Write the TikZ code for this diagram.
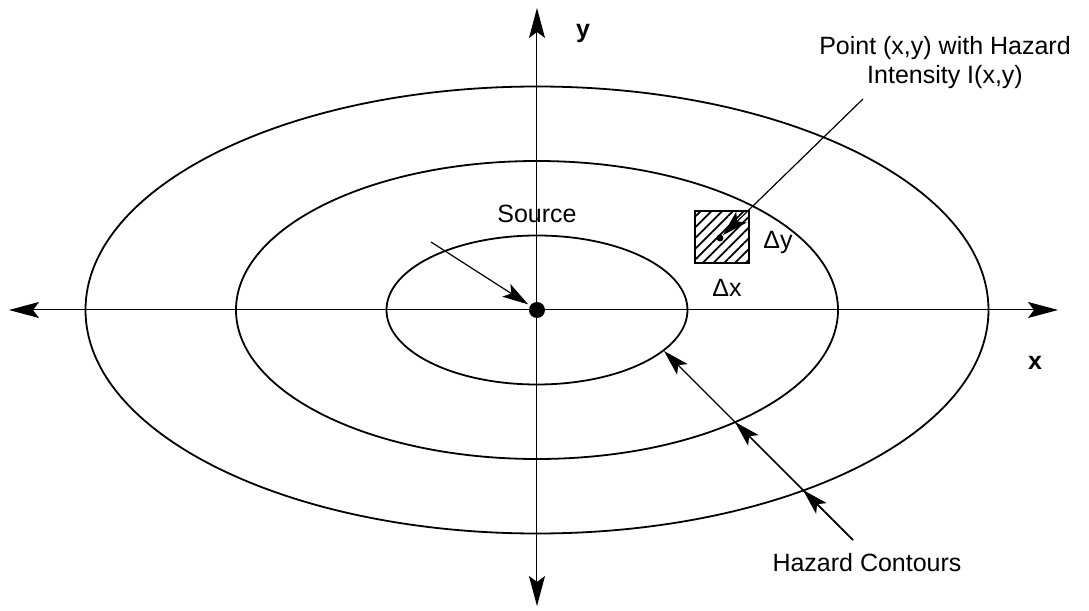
\documentclass[tikz,border=0pt]{standalone}
\usepackage{fontspec}
\setmainfont{Liberation Sans}
\usetikzlibrary{arrows.meta,patterns.meta}

\tikzset{
  lbl/.style={font=\fontsize{12.5}{14.5}\selectfont, inner sep=0pt},
  axlbl/.style={lbl, font=\fontsize{12.5}{14.5}\selectfont\bfseries},
  ax/.style={line width=0.5pt, {Stealth[length=15pt,width=8pt,inset=3pt]}-{Stealth[length=15pt,width=8pt,inset=3pt]}},
  ptr/.style={line width=0.6pt, -{Stealth[length=13pt,width=7.5pt,inset=3pt]}},
  contour/.style={line width=0.9pt}
}

\begin{document}
\begin{tikzpicture}[x=0.5pt,y=0.5pt]
  \useasboundingbox (-537,-301) rectangle (552,310);
  % hazard contours
  \foreach \k in {1,2,3}{
    \draw[contour] (0,0) ellipse [x radius=150.5*\k, y radius=74.5*\k];
  }
  % axes
  \coordinate (xl) at (-528,0);
  \coordinate (xr) at (521,0);
  \coordinate (yt) at (0,302);
  \coordinate (yb) at (0,-296);
  \draw[ax] (xl) -- (xr);
  \draw[ax] (yb) -- (yt);
  \node[axlbl] (xlab) at (498,-53) {x};
  \node[axlbl] (ylab) at (46,277) {y};
  % source
  \node[circle, fill, inner sep=0pt, minimum size=8pt] (src) at (0,0) {};
  \node[lbl] (srclab) at (0,96) {Source};
  \coordinate (srcfrom) at (-106,68);
  \draw[ptr, shorten >=1pt] (srcfrom) -- (src);
  % area element
  \node[draw, line width=0.8pt, pattern={Lines[angle=45,distance=3.8pt,line width=0.9pt]},
        minimum width=27pt, minimum height=26pt, inner sep=0pt] (cell) at (185,73) {};
  \node[circle, fill, inner sep=0pt, minimum size=3.5pt] (pt) at (183,72) {};
  \node[lbl] (dy) at (241,68) {Δy};
  \node[lbl] (dx) at (190,22) {Δx};
  \node[lbl, align=center] (ptlab) at (408,247) {Point (x,y) with Hazard\\Intensity I(x,y)};
  \coordinate (ptfrom) at (326,211);
  \draw[ptr] (ptfrom) -- (pt);
  % contour pointers
  \node[lbl] (hc) at (330,-253) {Hazard Contours};
  \coordinate (hcfrom) at (316,-230);
  \coordinate (c1) at (127,-41);
  \coordinate (c2) at (198,-112);
  \coordinate (c3) at (266,-180);
  \foreach \c in {c1,c2,c3}
    \draw[ptr] (hcfrom) -- (\c);
\end{tikzpicture}
\end{document}
